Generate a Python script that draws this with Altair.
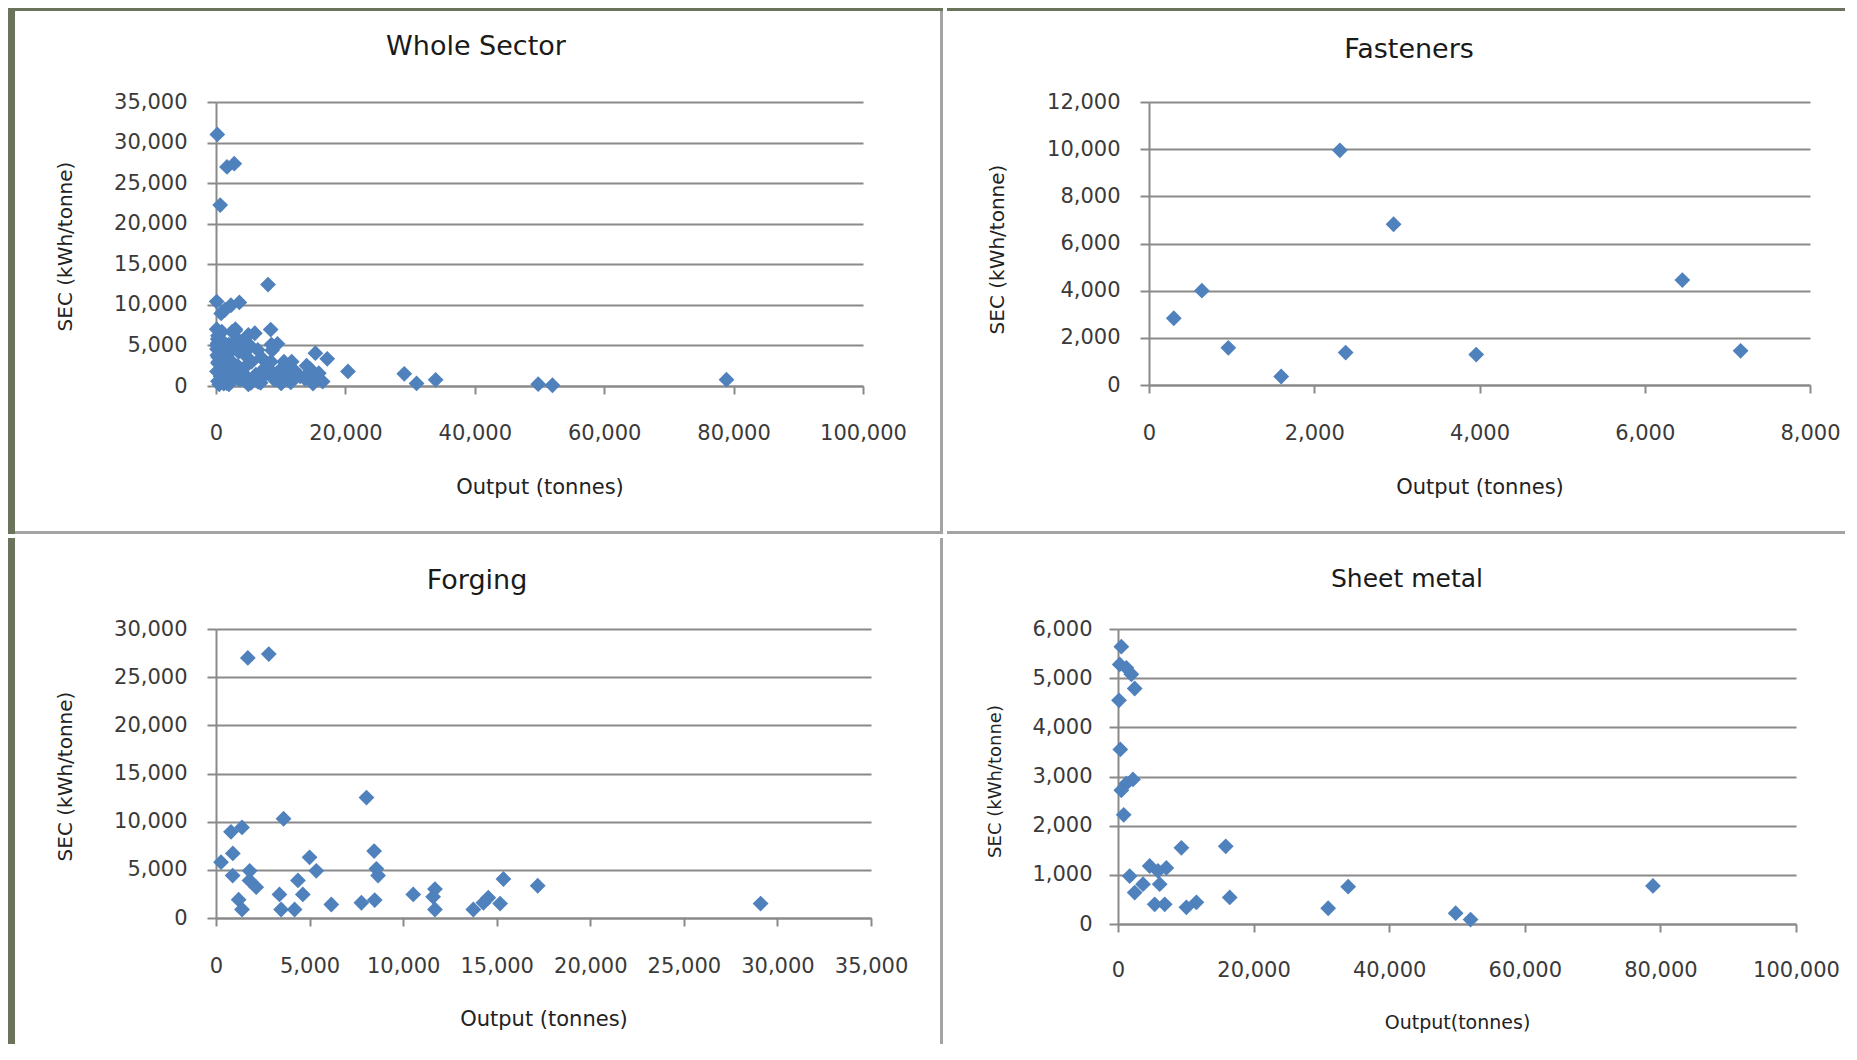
import altair as alt
import pandas as pd

# ---------------- data ----------------
fast_x = [300, 640, 960, 1600, 2310, 2380, 2960, 3960, 6455, 7160]
fast_y = [2830, 4000, 1575, 360, 9950, 1375, 6815, 1290, 4450, 1450]

forg_x = [1700, 2820, 8040, 3610, 800, 1390, 900, 270, 890, 1800, 1790, 2150,
          1210, 1390, 5000, 5360, 4380, 4640, 3390, 3480, 4200, 6160, 7770, 8480,
          8450, 8570, 8660, 10540, 11700, 11600, 11700, 13750, 14290, 14550,
          15180, 15360, 17190, 29100]
forg_y = [27000, 27400, 12500, 10300, 8950, 9400, 6700, 5800, 4400, 4900, 3900, 3200,
          1900, 880, 6300, 4900, 3900, 2450, 2450, 880, 880, 1400, 1580, 1860,
          6950, 5100, 4400, 2450, 3000, 2200, 880, 880, 1580, 2100,
          1500, 4050, 3350, 1500]

sheet_x = [490, 250, 1230, 1970, 2460, 150, 340, 2210, 1230, 490, 840, 1720, 2460,
           3690, 4670, 5900, 7130, 6150, 5410, 6890, 9350, 10090, 11560, 15890,
           16480, 31000, 33950, 49800, 52000, 78900]
sheet_y = [5640, 5280, 5210, 5080, 4790, 4550, 3550, 2940, 2860, 2720, 2220, 975, 640,
           810, 1180, 1080, 1140, 810, 400, 400, 1550, 340, 440, 1580,
           540, 320, 760, 220, 90, 775]

# other firms that appear only in the whole-sector chart
other_x = [200, 650, 100, 20400, 100, 300, 150, 600, 200, 400, 900, 150, 700, 300,
           1200, 2500, 3300, 6000, 7000, 9500, 10500, 12000, 9000, 6500, 13000,
           2000, 5000, 3000,
           1500, 2800, 4000, 5500, 7500, 8500, 11000, 14000, 3500, 1000, 4500,
           6000, 10000, 15000, 2200, 500]
other_y = [31000, 22300, 10400, 1800, 7000, 6200, 5000, 4500, 3800, 3000, 2500, 1800,
           1200, 600, 300, 6700, 5800, 6500, 3500, 5200, 3000, 2000, 800, 500, 1200,
           200, 200, 7000,
           3500, 2500, 1500, 3000, 2200, 3000, 1500, 2500, 4200, 5500, 5000,
           1000, 400, 300, 1200, 200]

whole_x = fast_x + forg_x + sheet_x + other_x
whole_y = fast_y + forg_y + sheet_y + other_y

# ---------------- styling ----------------
FONT = "DejaVu Sans"
BLUE = "#4F81BD"
GRID = "#8A8A8A"
SEP = "#A3A3A3"
OLIVE = "#6B735C"
DECOR = alt.Data(values=[{"k": 1}])
ytitle_text = "SEC (kWh/tonne)"


def panel(xs, ys, title, tx, ty, tsize, xmax, xstep, ymax, ystep, w, h,
          xtitle, xtitle_y, xtitle_size, xlab_pad,
          ytitle_x, ytitle_y, ytitle_size, ylab_pad,
          box, olive_left=False, olive_top=False, sep_right=False, sep_bottom=False):
    df = pd.DataFrame({"x": xs, "y": ys})
    x0, x1, y0, y1 = box
    layers = [
        alt.Chart(DECOR).mark_rect(opacity=0).encode(
            x=alt.value(x0), x2=alt.value(x1), y=alt.value(y0), y2=alt.value(y1))
    ]
    if olive_left:
        layers.append(alt.Chart(DECOR).mark_rect(color=OLIVE).encode(
            x=alt.value(x0), x2=alt.value(x0 + 7), y=alt.value(y0), y2=alt.value(y1)))
    if olive_top:
        layers.append(alt.Chart(DECOR).mark_rect(color=OLIVE).encode(
            x=alt.value(x0), x2=alt.value(x1), y=alt.value(y0), y2=alt.value(y0 + 3)))
    if sep_right:
        layers.append(alt.Chart(DECOR).mark_rule(color=SEP, strokeWidth=3).encode(
            x=alt.value(x1 - 1.5), y=alt.value(y0 + 3 if olive_top else y0), y2=alt.value(y1)))
    if sep_bottom:
        layers.append(alt.Chart(DECOR).mark_rule(color=SEP, strokeWidth=3).encode(
            x=alt.value(x0 + 7 if olive_left else x0), x2=alt.value(x1), y=alt.value(y1 - 1.5)))
    layers.append(alt.Chart(DECOR).mark_text(
        font=FONT, fontSize=tsize, color="#1A1A1A", align="center", baseline="middle"
    ).encode(x=alt.value(tx), y=alt.value(ty), text=alt.value(title)))

    xaxis = alt.Axis(values=list(range(0, xmax + 1, xstep)), format=",d", title=xtitle,
                     grid=False, tickSize=8, tickWidth=2, tickColor=GRID,
                     domainColor=GRID, domainWidth=2, labelPadding=xlab_pad,
                     labelFlush=False, labelOverlap=False, labelFontSize=21,
                     titleFontSize=xtitle_size, titleY=xtitle_y, titleBaseline="middle",
                     titleFontWeight="normal")
    yaxis = alt.Axis(values=list(range(0, ymax + 1, ystep)), format=",d", title=ytitle_text,
                     grid=True, gridColor=GRID, gridWidth=2, tickSize=9, tickWidth=2,
                     tickColor=GRID, domainColor=GRID, domainWidth=2,
                     labelPadding=ylab_pad, labelFontSize=21, labelOverlap=False,
                     titleFontSize=ytitle_size, titleX=ytitle_x, titleY=ytitle_y,
                     titleAngle=270, titleAlign="center", titleBaseline="middle",
                     titleFontWeight="normal")
    pts = alt.Chart(df).mark_point(shape="diamond", filled=True, size=250,
                                   color=BLUE, opacity=1).encode(
        x=alt.X("x:Q", scale=alt.Scale(domain=[0, xmax], nice=False, zero=True), axis=xaxis),
        y=alt.Y("y:Q", scale=alt.Scale(domain=[0, ymax], nice=False, zero=True), axis=yaxis),
    )
    layers.append(pts)
    return alt.layer(*layers).properties(width=w, height=h)


ws = panel(whole_x, whole_y, "Whole Sector", 260, -55, 27,
           100000, 20000, 35000, 5000, 647, 284,
           "Output (tonnes)", 101, 21, 28,
           -151, 144, 20, 20,
           (-208, 727, -94, 432), olive_left=True, olive_top=True,
           sep_right=True, sep_bottom=True)

fa = panel(fast_x, fast_y, "Fasteners", 260, -52, 27,
           8000, 2000, 12000, 2000, 661, 283,
           "Output (tonnes)", 102, 21, 29,
           -152, 147, 20, 20,
           (-202, 696, -94, 432), olive_top=True, sep_bottom=True)

fo = panel(forg_x, forg_y, "Forging", 261, -48, 27,
           35000, 5000, 30000, 5000, 655, 289,
           "Output (tonnes)", 101, 21, 29,
           -151, 147, 20, 20,
           (-208, 727, -91, 415), olive_left=True, sep_right=True)

sm = panel(sheet_x, sheet_y, "Sheet metal", 289, -50, 25,
           100000, 20000, 6000, 1000, 678, 295,
           "Output(tonnes)", 98, 19, 27,
           -123, 152, 18, 17,
           (-175, 722, -91, 415))

chart = alt.vconcat(
    alt.hconcat(ws, fa, spacing=0),
    alt.hconcat(fo, sm, spacing=0),
    spacing=0,
).properties(padding=0).configure(background="white").configure_view(
    strokeWidth=0
).configure_axis(
    labelFont=FONT, titleFont=FONT, labelColor="#3A3A3A", titleColor="#222222"
)

chart.save("out.html", embed_options={"renderer": "svg", "actions": False})
